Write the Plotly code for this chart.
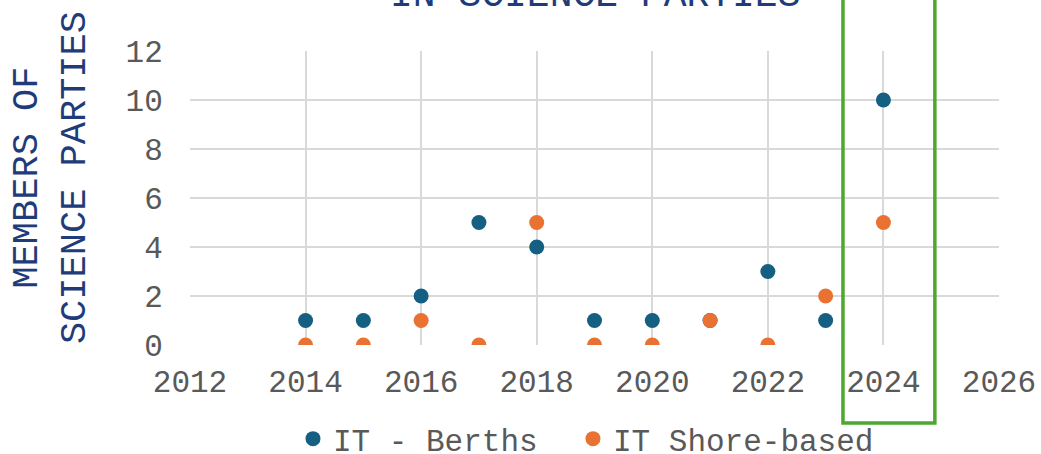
import plotly.graph_objects as go

years = [2014, 2015, 2016, 2017, 2018, 2019, 2020, 2021, 2022, 2023, 2024]
berths = [1, 1, 2, 5, 4, 1, 1, 1, 3, 1, 10]
shore = [0, 0, 1, 0, 5, 0, 0, 1, 0, 2, 5]

x_ticks = [2012, 2014, 2016, 2018, 2020, 2022, 2024, 2026]
y_ticks = [0, 2, 4, 6, 8, 10, 12]

FONT = "Courier New, Liberation Mono, monospace"
BLUE = "#156082"
ORANGE = "#E97132"
GREEN = "#4EA72E"
NAVY = "#1F3C7A"
GRAY = "#595959"
GRID = "#D9D9D9"

fig = go.Figure()
fig.add_trace(go.Scatter(x=years, y=berths, mode="markers", name="IT - Berths",
                         marker=dict(color=BLUE, size=15), legend="legend"))
fig.add_trace(go.Scatter(x=years, y=shore, mode="markers", name="IT Shore-based",
                         marker=dict(color=ORANGE, size=15), legend="legend2"))

legend_common = dict(orientation="h", xanchor="left", xref="paper",
                     y=1 - 439 / 454, yanchor="middle", yref="container",
                     bgcolor="rgba(0,0,0,0)",
                     font=dict(size=31, color=GRAY), itemwidth=30)

fig.update_layout(
    width=1041, height=454,
    margin=dict(l=190, r=42, t=51, b=109, autoexpand=False),
    paper_bgcolor="white", plot_bgcolor="white",
    font=dict(family=FONT, size=31, color=GRAY),
    showlegend=True,
    legend=dict(x=0.1273, **legend_common),
    legend2=dict(x=0.4734, **legend_common),
    xaxis=dict(range=[2012, 2026], tickvals=x_ticks, ticktext=[str(v) for v in x_ticks],
               showgrid=True, gridcolor=GRID, gridwidth=1.5, zeroline=False,
               showline=False, ticks="outside", ticklen=9, tickcolor="rgba(0,0,0,0)",
               tickfont=dict(size=31, color=GRAY)),
    yaxis=dict(range=[0, 12], tickvals=y_ticks, ticktext=[str(v) for v in y_ticks],
               showgrid=True, gridcolor=GRID, gridwidth=1.5, zeroline=False,
               showline=False, ticks="outside", ticklen=20, tickcolor="rgba(0,0,0,0)",
               tickfont=dict(size=31, color=GRAY)),
)

fig.add_annotation(text="MEMBERS OF<br>SCIENCE PARTIES", textangle=-90,
                   xref="paper", yref="paper", x=-0.171, y=0.57,
                   xanchor="center", yanchor="middle", showarrow=False,
                   font=dict(family=FONT, size=37, color=NAVY))
fig.add_annotation(text="IN SCIENCE PARTIES",
                   xref="paper", yref="paper", x=0.5, y=1.19,
                   xanchor="center", yanchor="middle", showarrow=False,
                   font=dict(family=FONT, size=38, color=NAVY))

fig.add_shape(type="rect", xref="x", yref="paper", x0=2023.3, x1=2024.89,
              y0=-0.265, y1=1.25, line=dict(color=GREEN, width=3.5),
              fillcolor="rgba(0,0,0,0)", layer="above")

fig.write_html("out.html", config={"displayModeBar": False},
               post_script="document.body.style.margin='0';document.body.style.padding='0';")
